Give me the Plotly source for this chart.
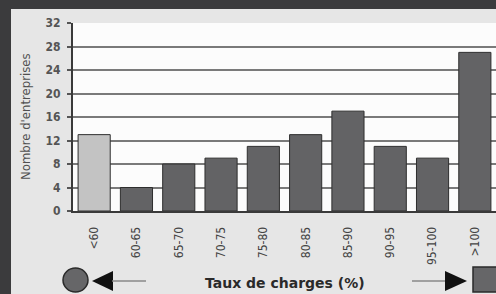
import plotly.graph_objects as go

categories = ["<60", "60-65", "65-70", "70-75", "75-80", "80-85", "85-90", "90-95", "95-100", ">100"]
counts = [13, 4, 8, 9, 11, 13, 17, 11, 9, 27]
bar_colors = ["#c3c3c3"] + ["#636365"] * 9
y_ticks = [0, 4, 8, 12, 16, 20, 24, 28, 32]

W, H = 496, 294
L, R, T, B = 73, 0, 23, 83
PW = W - L - R
PH = H - T - B


def px(x):
    return (x - L) / PW


def py(y):
    return (H - B - y) / PH


fig = go.Figure(
    go.Bar(
        x=categories,
        y=counts,
        marker=dict(color=bar_colors, line=dict(color="#2e2e2e", width=1)),
    )
)

shapes = [
    # dark outer bands
    dict(type="rect", xref="paper", yref="paper", x0=-1, x1=2, y0=py(9), y1=py(-20),
         fillcolor="#3b3b3d", line=dict(width=0), layer="above"),
    dict(type="rect", xref="paper", yref="paper", x0=px(-20), x1=px(11), y0=py(320), y1=py(-20),
         fillcolor="#3b3b3d", line=dict(width=0), layer="above"),
    # left circle + arrow
    dict(type="circle", xref="paper", yref="paper", x0=px(63), x1=px(88), y0=py(292), y1=py(268),
         fillcolor="#666668", line=dict(color="#2a2a2a", width=1.5)),
    dict(type="path", xref="paper", yref="paper",
         path=f"M {px(92)} {py(281)} L {px(113)} {py(271)} L {px(113)} {py(291)} Z",
         fillcolor="#111111", line=dict(width=0)),
    dict(type="line", xref="paper", yref="paper", x0=px(112), x1=px(146), y0=py(281), y1=py(281),
         line=dict(color="#888888", width=1.5)),
    # right arrow + square
    dict(type="line", xref="paper", yref="paper", x0=px(412), x1=px(446), y0=py(281), y1=py(281),
         line=dict(color="#888888", width=1.5)),
    dict(type="path", xref="paper", yref="paper",
         path=f"M {px(467)} {py(281)} L {px(445)} {py(271)} L {px(445)} {py(291)} Z",
         fillcolor="#111111", line=dict(width=0)),
    dict(type="rect", xref="paper", yref="paper", x0=px(473), x1=px(505), y0=py(292), y1=py(267),
         fillcolor="#666668", line=dict(color="#2a2a2a", width=1.5)),
]

annotations = [
    dict(text="Nombre d'entreprises", xref="paper", yref="paper", x=px(25), y=0.5,
         textangle=-90, showarrow=False, xanchor="center", yanchor="middle",
         font=dict(family="DejaVu Sans Condensed", size=13, color="#505050")),
    dict(text="<b>Taux de charges (%)</b>", xref="paper", yref="paper", x=px(285), y=py(283),
         showarrow=False, xanchor="center", yanchor="middle",
         font=dict(family="DejaVu Sans", size=14, color="#2a2a2a")),
]

fig.update_layout(
    width=W, height=H,
    margin=dict(l=L, r=R, t=T, b=B, pad=0),
    paper_bgcolor="#e6e6e6",
    plot_bgcolor="#fcfcfc",
    bargap=0.24,
    showlegend=False,
    shapes=shapes,
    annotations=annotations,
)

fig.update_yaxes(
    range=[0, 32], tickvals=y_ticks, ticktext=[str(v) for v in y_ticks],
    showgrid=True, gridcolor="#7a7a7a", gridwidth=2,
    showline=True, linecolor="#3a3a3a", linewidth=2,
    ticks="outside", ticklen=4, tickcolor="#555555", tickwidth=1.5,
    ticklabelstandoff=4,
    tickfont=dict(family="DejaVu Sans Condensed", size=12, color="#555555", weight="bold"),
    zeroline=False, fixedrange=True,
)
fig.update_xaxes(
    range=[-0.5, 9.5],
    showgrid=False, showline=True, linecolor="#3a3a3a", linewidth=2,
    ticks="", tickangle=-90, ticklabelstandoff=9,
    tickfont=dict(family="DejaVu Sans Condensed", size=12, color="#444444"),
    fixedrange=True,
)

fig.write_html(
    "out.html",
    config={"displayModeBar": False},
    post_script="document.body.style.margin='0px';document.body.style.overflow='hidden';",
)
